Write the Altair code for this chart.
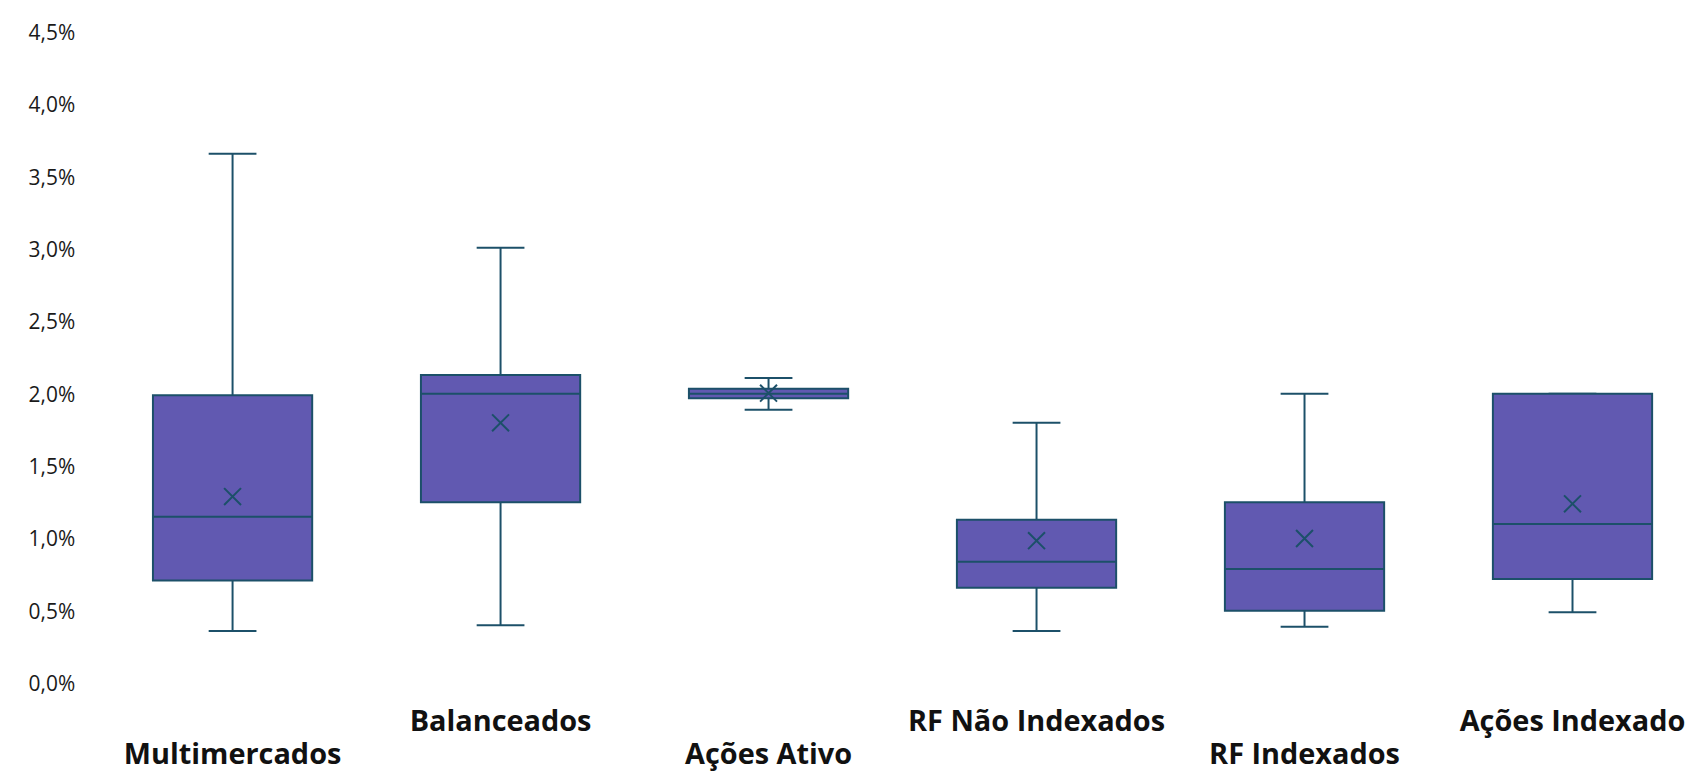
import altair as alt
import pandas as pd

categories = ["Multimercados", "Balanceados", "Ações Ativo",
              "RF Não Indexados", "RF Indexados", "Ações Indexado"]
positions = [0, 1, 2, 3, 4, 5]
mins = [0.37, 0.41, 1.90, 0.37, 0.40, 0.50]
q1s = [0.72, 1.26, 1.98, 0.67, 0.51, 0.73]
medians = [1.16, 2.01, 2.01, 0.85, 0.80, 1.11]
q3s = [2.00, 2.14, 2.045, 1.14, 1.26, 2.01]
maxs = [3.67, 3.02, 2.12, 1.81, 2.01, 2.01]
means = [1.30, 1.81, 2.015, 0.995, 1.01, 1.25]
label_row = [1, 0, 1, 0, 1, 0]  # 0 = upper row, 1 = lower row
y_ticks = [0.0, 0.5, 1.0, 1.5, 2.0, 2.5, 3.0, 3.5, 4.0, 4.5]

df = pd.DataFrame({
    "category": categories, "idx": positions, "min": mins, "q1": q1s,
    "median": medians, "q3": q3s, "max": maxs, "mean": means, "row": label_row,
})

FILL = "#6159B1"
STROKE = "#1C5069"
W, H = 1604, 654

xenc = alt.X("idx:Q", scale=alt.Scale(domain=[-0.5, 5.42], nice=False, zero=False), axis=None)
yscale = alt.Scale(domain=[0, 4.5], nice=False, zero=True)
yaxis = alt.Axis(values=y_ticks,
                 labelExpr="replace(format(datum.value, '.1f'), '.', ',') + '%'",
                 ticks=False, domain=False, grid=False, title=None,
                 labelFont="Open Sans", labelFontSize=21, labelColor="#1a1a1a",
                 labelPadding=19)

base = alt.Chart(df)

whisk_lo = base.mark_rule(color=STROKE, strokeWidth=2).encode(
    x=xenc, y=alt.Y("min:Q", scale=yscale, axis=yaxis), y2="q1:Q")
whisk_hi = base.mark_rule(color=STROKE, strokeWidth=2).encode(
    x=xenc, y=alt.Y("q3:Q", scale=yscale), y2="max:Q")
cap_lo = base.mark_tick(orient="horizontal", size=48, thickness=2, color=STROKE, opacity=1).encode(
    x=xenc, y=alt.Y("min:Q", scale=yscale))
cap_hi = base.mark_tick(orient="horizontal", size=48, thickness=2, color=STROKE, opacity=1).encode(
    x=xenc, y=alt.Y("max:Q", scale=yscale))
box = base.mark_bar(size=160, color=FILL, stroke=STROKE, strokeWidth=2).encode(
    x=xenc, y=alt.Y("q1:Q", scale=yscale), y2="q3:Q")
med = base.mark_tick(orient="horizontal", size=160, thickness=2, color=STROKE, opacity=1).encode(
    x=xenc, y=alt.Y("median:Q", scale=yscale))
mean = base.mark_point(shape="M-1,-1L1,1M-1,1L1,-1", size=289, filled=False,
                       stroke=STROKE, strokeWidth=2, opacity=1).encode(
    x=xenc, y=alt.Y("mean:Q", scale=yscale))
lab_up = base.transform_filter("datum.row == 0").mark_text(
    font="Open Sans", fontSize=29, fontWeight="bold", baseline="alphabetic",
    align="center", color="#111111").encode(x=xenc, y=alt.value(701), text="category:N")
lab_dn = base.transform_filter("datum.row == 1").mark_text(
    font="Open Sans", fontSize=29, fontWeight="bold", baseline="alphabetic",
    align="center", color="#111111").encode(x=xenc, y=alt.value(734), text="category:N")

chart = alt.layer(whisk_lo, whisk_hi, cap_lo, cap_hi, box, med, mean, lab_up, lab_dn).properties(
    width=W, height=H,
    autosize=alt.AutoSizeParams(type="none"),
    padding={"left": 86, "top": 24, "right": 8, "bottom": 88},
    background="white",
).configure_view(stroke=None)

chart.save("out.html", embed_options={"renderer": "svg", "actions": False})
